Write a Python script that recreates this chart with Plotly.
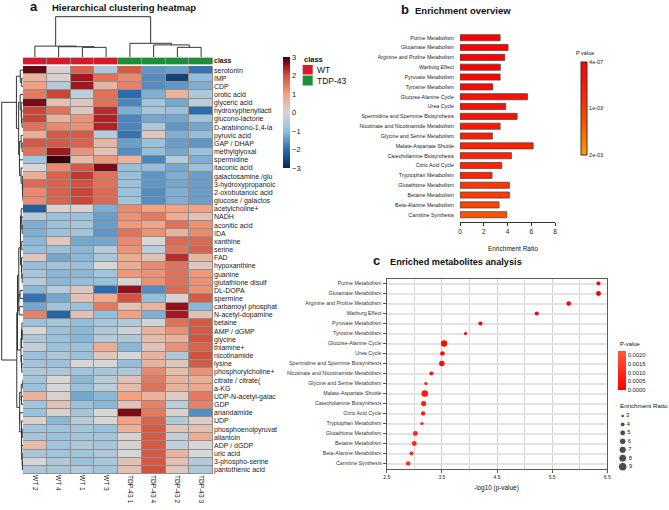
import numpy as np
import plotly.graph_objects as go

W, H = 669, 510
def fx(px): return px / W
def fy(py): return 1 - py / H

FONT = "Liberation Sans, Arial, sans-serif"

# ---------------- Panel a data ----------------
samples = ["WT 2", "WT 4", "WT 1", "WT 3", "TDP-43 1", "TDP-43 4", "TDP-43 2", "TDP-43 3"]
sample_class = ["WT", "WT", "WT", "WT", "TDP-43", "TDP-43", "TDP-43", "TDP-43"]
class_names = ["WT", "TDP-43"]
class_colors = ["#d51a2e", "#1f8e3b"]

metabolites = [
    "serotonin", "IMP", "CDP", "orotic acid", "glyceric acid", "hydroxyphenyllacti",
    "glucono-lactone", "D-arabinono-1,4-la", "pyruvic acid", "GAP / DHAP", "methylglyoxal",
    "spermidine", "itaconic acid", "galactosamine /glu", "3-hydroxypropanoic",
    "2-oxobutanoic acid", "glucose / galactos", "acetylcholine+", "NADH", "aconitic acid",
    "IDA", "xanthine", "serine", "FAD", "hypoxanthine", "guanine", "glutathione disulf",
    "DL-DOPA", "spermine", "carbamoyl phosphat", "N-acetyl-dopamine", "betaine",
    "AMP / dGMP", "glycine", "thiamine+", "nicotinamide", "lysine", "phosphorylcholine+",
    "citrate / citrate(", "a-KG", "UDP-N-acetyl-galac", "GDP", "anandamide", "UDP",
    "phosphoenolpyruvat", "allantoin", "ADP / dGDP", "uric acid", "3-phospho-serine",
    "pantothenic acid",
]

# z-scores, one row per metabolite, columns in sample order
zscores = [
    [2.8, 0.1, 1.8, -0.6, 1.9, -1.5, -1.4, -1.9],
    [0.7, 0.1, 2.5, 1.6, 1.3, -1.6, -2.6, -1.0],
    [1.0, -0.5, 2.5, 0.6, 1.4, -1.6, -1.5, -1.2],
    [1.5, 2.1, -0.4, 1.6, -2.0, -1.2, 0.7, -0.6],
    [2.7, 0.4, 0.3, 1.6, -1.7, -0.8, -1.3, -0.4],
    [2.1, 1.6, 0.3, 2.3, -1.2, -0.7, -0.9, -2.0],
    [2.1, 0.7, 1.2, 2.4, -1.7, -1.3, -1.3, -0.8],
    [1.6, 1.3, 1.2, 2.4, -1.7, -0.6, -1.5, -1.3],
    [0.8, 1.9, 1.9, -0.5, -1.9, 0.3, -1.2, -1.0],
    [1.9, 1.9, 1.8, 0.6, -1.4, -0.9, -1.4, -1.5],
    [1.6, 2.5, 1.2, 0.4, -1.6, -1.0, -1.3, -0.9],
    [-0.8, 3.0, 0.5, 1.1, 0.7, -1.7, -0.5, -1.2],
    [0.0, 1.3, 1.9, 2.7, -1.0, -1.0, -1.3, -0.9],
    [0.8, 1.8, 2.2, 1.6, -0.9, -1.5, -1.2, -1.4],
    [1.7, 1.8, 2.0, 1.6, -0.9, -1.5, -1.3, -1.4],
    [1.3, 1.8, 2.1, 1.7, -0.9, -1.6, -1.2, -1.4],
    [1.3, 1.8, 2.1, 1.7, -0.8, -1.6, -1.2, -1.4],
    [-2.2, 0.1, 0.1, -1.2, 1.3, 1.0, 1.0, 1.0],
    [-0.5, -0.9, -0.9, -1.4, 1.2, 1.5, 0.8, 0.4],
    [-1.2, -0.9, -0.7, -1.4, 1.1, 0.9, 1.6, 1.2],
    [-1.2, -0.9, -0.8, -1.5, 1.6, 1.2, 0.7, 1.3],
    [-1.1, 0.3, -1.3, -1.3, 1.3, 0.0, 1.7, 1.7],
    [-1.0, -0.9, -1.1, -0.5, 1.2, -0.4, 1.6, 1.8],
    [0.3, -1.3, -1.1, -0.7, 0.8, 0.4, 2.3, 0.6],
    [-1.0, -0.8, -0.9, 0.0, 0.8, 1.3, 1.6, 0.3],
    [-0.7, -1.1, -1.1, -0.8, 1.1, 1.2, 1.6, 1.1],
    [-0.5, -1.1, -1.0, -0.9, 0.1, 1.2, 1.6, 1.2],
    [-1.1, -0.5, 0.3, -2.0, 2.6, -1.6, 1.7, 1.2],
    [-1.9, -1.3, 0.4, 0.8, 2.0, -1.0, 0.1, 1.9],
    [-1.3, -0.8, -0.9, 1.5, 0.4, 0.7, 2.6, -1.1],
    [1.4, -2.1, 0.4, -1.0, 1.0, -1.2, 2.5, 0.4],
    [-0.9, -0.7, -1.0, -0.7, -0.6, -0.1, 1.6, 1.9],
    [0.0, -0.9, -1.1, -0.6, -0.2, 0.7, 1.2, 1.9],
    [-0.6, -0.9, -1.1, -0.5, -0.6, 0.5, 0.7, 2.0],
    [-0.3, -0.9, -0.9, 0.8, -1.1, 0.4, 1.2, 1.8],
    [-0.9, -0.6, -0.9, 0.3, 0.0, 0.7, -0.6, 2.0],
    [-0.8, -0.9, 0.0, 0.0, -1.0, 0.7, 0.3, 1.9],
    [-0.6, -0.6, -0.8, -0.7, -0.6, 1.3, 0.5, 1.2],
    [-0.8, 0.0, -1.1, -0.5, 0.4, 1.5, 0.7, 0.8],
    [-0.9, 0.0, -0.9, -0.4, 0.5, 1.6, 0.7, 0.9],
    [0.7, 0.1, -1.3, -1.1, 1.0, 0.7, 0.2, 1.5],
    [-0.8, 0.4, -0.9, -1.1, 0.4, 1.4, -0.4, 1.4],
    [-0.9, 0.1, -0.7, 0.0, 2.7, 1.5, 0.1, -1.6],
    [0.1, -1.1, -0.5, 0.0, 1.0, 1.8, -0.6, 0.2],
    [-0.8, -0.8, -0.7, -0.9, 0.7, 1.9, 0.3, 0.4],
    [-0.7, -0.9, -0.8, -0.8, 0.1, 1.9, -0.3, 0.8],
    [0.5, -0.8, -0.6, -0.7, 0.1, 1.9, -0.3, 0.0],
    [-0.7, -0.8, -0.8, -0.6, 0.0, 1.9, 0.7, 0.0],
    [0.0, -0.6, -0.9, -0.7, 0.4, 1.9, 0.4, -0.5],
    [-0.6, -0.7, -0.6, -0.8, 0.4, 2.0, 0.3, -0.6],
]

# column dendrogram linkage (leaf indices in display order, relative heights)
col_merges = [[2, 3, 0.24], [1, 8, 0.255], [0, 9, 0.27],
              [6, 7, 0.24], [5, 11, 0.30], [4, 12, 0.34], [10, 13, 1.0]]

heat_ticks = [-3, -2, -1, 0, 1, 2, 3]

# ---------------- Panels b / c data ----------------
pathways = [
    "Purine Metabolism", "Glutamate Metabolism", "Arginine and Proline Metabolism",
    "Warburg Effect", "Pyruvate Metabolism", "Tyrosine Metabolism", "Glucose-Alanine Cycle",
    "Urea Cycle", "Spermidine and Spermine Biosynthesis",
    "Nicotinate and Nicotinamide Metabolism", "Glycine and Serine Metabolism",
    "Malate-Aspartate Shuttle", "Catecholamine Biosynthesis", "Citric Acid Cycle",
    "Tryptophan Metabolism", "Glutathione Metabolism", "Betaine Metabolism",
    "Beta-Alanine Metabolism", "Carnitine Synthesis",
]
enrichment_ratio = [3.38, 4.05, 3.77, 3.40, 3.38, 2.76, 5.68, 3.85, 4.81, 3.38,
                    2.73, 6.16, 4.33, 3.52, 2.70, 4.16, 4.16, 3.29, 3.94]
neg_log10_p = [6.34, 6.34, 5.80, 5.22, 4.20, 3.93, 3.54, 3.51, 3.50, 3.31,
               3.21, 3.19, 3.17, 3.16, 3.14, 3.02, 3.00, 2.95, 2.89]
ratio_ticks = [0, 2, 4, 6, 8]
b_pticks = [4e-07, 1e-03, 2e-03]
b_pticklabels = ["4e-07", "1e-03", "2e-03"]
c_pticks = [0.0, 0.0005, 0.0010, 0.0015, 0.0020]
size_legend = [3, 4, 5, 6, 7, 8, 9]

pvals = [10 ** (-v) for v in neg_log10_p]

def dot_size(r):
    return 1.05 * np.sqrt(max(-15.9 + 9.2 * r, 4.0))

# ---------------- figure ----------------
fig = go.Figure()

Z = np.array(zscores)
nrow, ncol = Z.shape

heat_scale = [
    [0.0, "#0b2450"], [1 / 6, "#2b6cae"], [2 / 6, "#93bfdc"], [0.5, "#d6d6d6"],
    [4 / 6, "#f3a181"], [5 / 6, "#d2523f"], [0.917, "#a5161f"], [1.0, "#3a0004"],
]

# grey cell borders behind the heatmap
fig.add_shape(type="rect", xref="x", yref="y", x0=-0.5, x1=ncol - 0.5, y0=-0.5, y1=nrow - 0.5,
              fillcolor="#8f8f8f", line=dict(width=0), layer="below")
fig.add_trace(go.Heatmap(
    z=Z, x=list(range(ncol)), y=list(range(nrow)), colorscale=heat_scale, zmin=-3, zmax=3,
    xgap=1, ygap=1, xaxis="x", yaxis="y", hoverinfo="skip",
    colorbar=dict(x=fx(283), xanchor="left", y=fy(57), yanchor="top", len=111 / H,
                  lenmode="fraction", thickness=7, thicknessmode="pixels", xpad=0, ypad=0,
                  outlinewidth=0, tickvals=heat_ticks, ticks="",
                  tickfont=dict(size=7.5, color="#222", family=FONT)),
))

# class annotation bar
cls_idx = [[class_names.index(c) for c in sample_class]]
fig.add_shape(type="rect", xref="x2", yref="y2", x0=-0.5, x1=ncol - 0.5, y0=-0.5, y1=0.5,
              fillcolor="#8f8f8f", line=dict(width=0), layer="below")
fig.add_trace(go.Heatmap(
    z=cls_idx, x=list(range(ncol)), y=[0], zmin=0, zmax=1, showscale=False, xgap=1,
    colorscale=[[0, class_colors[0]], [0.5, class_colors[0]], [0.5, class_colors[1]], [1, class_colors[1]]],
    xaxis="x2", yaxis="y2", hoverinfo="skip",
))

# column dendrogram
nodes = [(float(i), 0.0) for i in range(ncol)]
dx, dy = [], []
for a, b, h in col_merges:
    pa, ha = nodes[a]
    pb, hb = nodes[b]
    dx += [pa, pa, pb, pb, None]
    dy += [ha, h, h, hb, None]
    nodes.append(((pa + pb) / 2, h))
fig.add_trace(go.Scatter(x=dx, y=dy, mode="lines", line=dict(color="#333", width=1),
                         xaxis="x3", yaxis="y3", hoverinfo="skip", showlegend=False))

# row dendrogram: adjacency-constrained Ward clustering on the z-scores
clusters = [dict(pos=float(i), h=0.0, c=Z[i].copy(), s=1) for i in range(nrow)]
rx, ry = [], []
while len(clusters) > 1:
    best = None
    for k in range(len(clusters) - 1):
        A, B = clusters[k], clusters[k + 1]
        d = np.sqrt(2 * A["s"] * B["s"] / (A["s"] + B["s"])) * np.linalg.norm(A["c"] - B["c"])
        if best is None or d < best[0]:
            best = (d, k)
    d, k = best
    A, B = clusters[k], clusters[k + 1]
    h = max(d, A["h"], B["h"])
    rx += [A["h"], h, h, B["h"], None]
    ry += [A["pos"], A["pos"], B["pos"], B["pos"], None]
    clusters[k:k + 2] = [dict(pos=(A["pos"] + B["pos"]) / 2, h=h,
                              c=(A["c"] * A["s"] + B["c"] * B["s"]) / (A["s"] + B["s"]),
                              s=A["s"] + B["s"])]
hmax = clusters[0]["h"]
fig.add_trace(go.Scatter(x=rx, y=ry, mode="lines", line=dict(color="#333", width=1),
                         xaxis="x4", yaxis="y4", hoverinfo="skip", showlegend=False))

# ---------------- panel b bars ----------------
neg_p = [-p for p in pvals]
b_scale = [[0.0, "#ffa000"], [0.3, "#ff5a00"], [0.6, "#ff2800"], [1.0, "#ff0000"]]
fig.add_trace(go.Bar(
    x=enrichment_ratio, y=pathways, orientation="h", width=0.62,
    marker=dict(color=neg_p, colorscale=b_scale, cmin=-max(b_pticks), cmax=-min(b_pticks),
                line=dict(color="#4a4a4a", width=0.8),
                colorbar=dict(x=fx(581), xanchor="left", y=fy(61.7), yanchor="top",
                              len=(155 - 61.7) / H, lenmode="fraction", thickness=6,
                              thicknessmode="pixels", xpad=0, ypad=0, outlinewidth=1,
                              outlinecolor="#333", ticks="",
                              tickvals=[-v for v in b_pticks], ticktext=b_pticklabels,
                              tickfont=dict(size=5.5, color="#222", family=FONT))),
    xaxis="x5", yaxis="y5", hoverinfo="skip", showlegend=False,
))

# ---------------- panel c dots ----------------
c_scale = [[0.0, "#ff0000"], [1.0, "#ff5a3a"]]
fig.add_trace(go.Scatter(
    x=neg_log10_p, y=pathways, mode="markers",
    marker=dict(size=[dot_size(r) for r in enrichment_ratio], color=pvals, colorscale=c_scale,
                cmin=0, cmax=0.00227, line=dict(width=0), opacity=1,
                colorbar=dict(x=fx(617.7), xanchor="left", y=fy(350.7), yanchor="top",
                              len=38.6 / H, lenmode="fraction", thickness=8,
                              thicknessmode="pixels", xpad=0, ypad=0, outlinewidth=0,
                              ticks="", tickvals=c_pticks,
                              ticktext=[f"{v:.4f}" for v in c_pticks],
                              tickfont=dict(size=5.8, color="#222", family=FONT))),
    xaxis="x6", yaxis="y6", hoverinfo="skip", showlegend=False,
))

# size legend
fig.add_trace(go.Scatter(
    x=[0] * len(size_legend), y=size_legend, mode="markers+text",
    text=[str(v) for v in size_legend], textposition="middle right",
    textfont=dict(size=5.8, color="#222", family=FONT),
    marker=dict(size=[dot_size(v) for v in size_legend], color="black"),
    xaxis="x7", yaxis="y7", hoverinfo="skip", showlegend=False, cliponaxis=False,
))

hid = dict(visible=False, showgrid=False, zeroline=False)
hx = [fx(23), fx(213)]
hy = [fy(474), fy(66)]

fig.update_layout(
    width=W, height=H, autosize=False,
    margin=dict(l=0, r=0, t=0, b=0, autoexpand=False),
    paper_bgcolor="white", plot_bgcolor="white",
    font=dict(family=FONT, color="#222"),
    showlegend=False,
    xaxis=dict(domain=hx, range=[-0.5, ncol - 0.5], anchor="y", tickmode="array",
               tickvals=list(range(ncol)), ticktext=samples, tickangle=90, ticks="",
               showgrid=False, zeroline=False, showline=False,
               tickfont=dict(size=6.6, color="#222", family=FONT)),
    yaxis=dict(domain=hy, range=[nrow - 0.5, -0.5], anchor="x", side="right", tickmode="array",
               tickvals=list(range(nrow)), ticktext=metabolites, ticks="",
               showgrid=False, zeroline=False, showline=False,
               tickfont=dict(size=7, color="#1a1a1a", family=FONT)),
    xaxis2=dict(domain=hx, range=[-0.5, ncol - 0.5], anchor="y2", showticklabels=False,
                ticks="", showgrid=False, zeroline=False),
    yaxis2=dict(domain=[fy(64.5), fy(57.5)], range=[-0.5, 0.5], anchor="x2", side="right",
                tickmode="array", tickvals=[0], ticktext=["<b>class</b>"], ticks="",
                showgrid=False, zeroline=False, tickfont=dict(size=7, color="#1a1a1a", family=FONT)),
    xaxis3=dict(domain=hx, range=[-0.5, ncol - 0.5], anchor="y3", **hid),
    yaxis3=dict(domain=[fy(57), fy(15)], range=[0, (57 - 15) / (57 - 16.7)], anchor="x3", **hid),
    xaxis4=dict(domain=[0, fx(23)], range=[hmax * 1.08, 0], anchor="y4", **hid),
    yaxis4=dict(domain=hy, range=[nrow - 0.5, -0.5], anchor="x4", **hid),
    xaxis5=dict(domain=[fx(460), fx(555)], range=[0, 8], anchor="y5", tickmode="array",
                tickvals=ratio_ticks, ticks="outside", ticklen=3, tickcolor="#333",
                showline=True, linecolor="#333", linewidth=1, showgrid=False, zeroline=False,
                tickfont=dict(size=6.5, color="#222", family=FONT)),
    yaxis5=dict(domain=[fy(221.7), fy(32)], range=[18.71, -0.58], anchor="x5", ticks="",
                showline=False, showgrid=False, zeroline=False, ticklabelstandoff=5,
                tickfont=dict(size=5.3, color="#222", family=FONT)),
    xaxis6=dict(domain=[fx(386.7), fx(607.3)], range=[2.5, 6.5], anchor="y6",
                tickmode="linear", tick0=2.5, dtick=1, ticks="outside", ticklen=3,
                tickcolor="#555", showline=True, mirror=True, linecolor="#5a5a5a", linewidth=1.2,
                showgrid=True, gridcolor="#cfcfcf", gridwidth=1, zeroline=False,
                minor=dict(tick0=2.5, dtick=0.5, showgrid=True, gridcolor="#d6d6d6", gridwidth=1),
                tickfont=dict(size=5, color="#222", family=FONT)),
    yaxis6=dict(domain=[fy(468.5), fy(278.5)], range=[18.5, -0.5], anchor="x6",
                ticks="outside", ticklen=3, tickcolor="#555", showline=True, mirror=True,
                linecolor="#5a5a5a", linewidth=1.2, showgrid=True, gridcolor="#e3e3e3",
                gridwidth=1.5, zeroline=False,
                tickfont=dict(size=5.3, color="#333", family=FONT)),
    xaxis7=dict(domain=[fx(615), fx(650)], range=[-7.7, 27.3], anchor="y7", **hid),
    yaxis7=dict(domain=[fy(472), fy(410)], range=[9.63, 2.29], anchor="x7", **hid),
)

# class legend squares
fig.add_shape(type="rect", xref="paper", yref="paper", x0=fx(302.7), x1=fx(312.7),
              y0=fy(74.5), y1=fy(65), fillcolor=class_colors[0], line=dict(width=0))
fig.add_shape(type="rect", xref="paper", yref="paper", x0=fx(302.7), x1=fx(312.7),
              y0=fy(85.5), y1=fy(75.5), fillcolor=class_colors[1], line=dict(width=0))

def ann(text, px, py, size, bold=False, xanchor="left", color="#111"):
    fig.add_annotation(x=fx(px), y=fy(py), xref="paper", yref="paper",
                       text=(f"<b>{text}</b>" if bold else text),
                       showarrow=False, xanchor=xanchor, yanchor="middle",
                       font=dict(size=size, color=color, family=FONT))

ann("a", 28, 7, 13, bold=True)
ann("Hierarchical clustering heatmap", 50, 8, 9.5, bold=True)
ann("class", 302, 59.7, 7.5, bold=True)
ann(class_names[0], 315, 70, 8.5)
ann(class_names[1], 315, 80.5, 8.5)

ann("b", 399, 9, 13, bold=True)
ann("Enrichment overview", 413, 10, 9.5, bold=True)
ann("P value", 574, 52.7, 5.5)
ann("Enrichment Ratio", 513, 248.3, 6.5, xanchor="center")

ann("c", 371, 260.5, 13, bold=True)
ann("Enriched metabolites analysis", 388, 261.7, 9.2, bold=True)
ann("-log10 (p-value)", 496.7, 488.3, 6.4, xanchor="center")
ann("P-value", 617.5, 344, 5.8)
ann("Enrichment Ratio", 617.5, 405.7, 6.2)

fig.write_html("out.html", config={"displayModeBar": False},
               post_script="document.body.style.margin='0';document.body.style.padding='0';")
